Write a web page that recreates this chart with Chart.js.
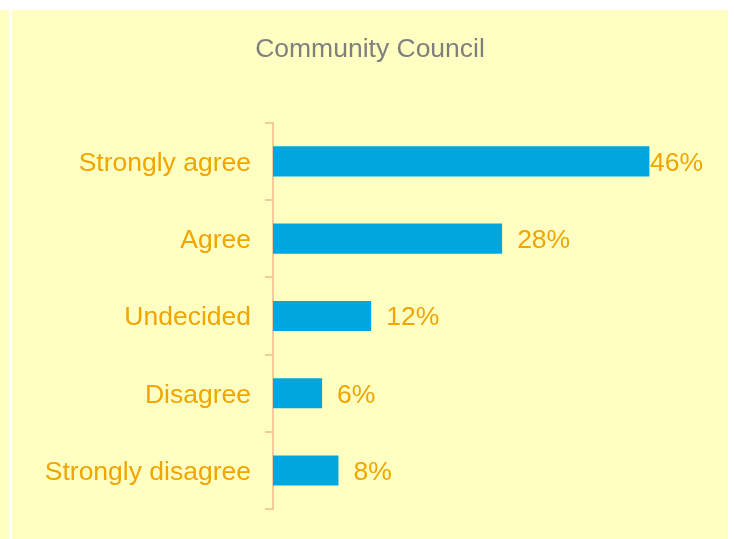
<!DOCTYPE html>
<html>
<head>
<meta charset="utf-8">
<title>Community Council</title>
<script src="https://cdn.jsdelivr.net/npm/chart.js@4/dist/chart.umd.min.js"></script>
<style>
  html, body { margin: 0; padding: 0; background: #fff; }
  #panel {
    position: absolute; left: 0; top: 10px; width: 728px; height: 529px;
    background: #FFFFC1;
  }
  #rule {
    position: absolute; left: 9px; top: 0; width: 3px; height: 529px;
    background: #fff;
  }
  #wrap { position: absolute; left: 12px; top: 0; width: 716px; height: 529px; }
</style>
</head>
<body>
<div id="panel">
  <div id="rule"></div>
  <div id="wrap"><canvas id="chBar"></canvas></div>
</div>
<script>
const labels = ["Strongly agree", "Agree", "Undecided", "Disagree", "Strongly disagree"];
const values = [46, 28, 12, 6, 8];

const FONT = "'Liberation Sans', Arial, sans-serif";
const ORANGE = "#F0A500";

// percent labels at the end of each bar, kept inside the panel
const valueLabels = {
  id: "valueLabels",
  afterDatasetsDraw(chart) {
    const ctx = chart.ctx;
    const area = chart.chartArea;
    const meta = chart.getDatasetMeta(0);
    ctx.save();
    ctx.font = "26.5px " + FONT;
    ctx.fillStyle = ORANGE;
    ctx.textBaseline = "middle";
    ctx.textAlign = "left";
    meta.data.forEach(function (bar, i) {
      const text = chart.data.datasets[0].data[i] + "%";
      const w = ctx.measureText(text).width;
      let x = bar.x + 15;
      if (x + w > area.right - 25) x = area.right - 25 - w;
      ctx.fillText(text, x, bar.y + 2);
    });
    ctx.restore();
  }
};

const data = {
  labels: labels,
  datasets: [
    {
      data: values,
      backgroundColor: "#00A6DD",
      borderWidth: 0,
      barPercentage: 0.39,
      categoryPercentage: 1,
    },
  ],
};

const config = {
  type: "bar",
  data: data,
  options: {
    indexAxis: "y",
    responsive: true,
    maintainAspectRatio: false,
    animation: false,
    layout: { padding: { left: 0, right: 0, bottom: 28, top: 0 } },
    plugins: {
      legend: { display: false },
      tooltip: { enabled: false },
      title: {
        display: true,
        text: "Community Council",
        color: "#7F7F7F",
        font: { family: FONT, size: 26.5, weight: "normal", lineHeight: 1.2 },
        padding: { top: 24, bottom: 57 },
      },
    },
    scales: {
      x: { display: false, min: 0, max: 55.6 },
      y: {
        afterFit: function (scale) { scale.width = 261; },
        border: { display: true, color: "#F6C99B", width: 2 },
        grid: { drawOnChartArea: false, color: "#F6C99B", lineWidth: 2, tickLength: 8, offset: true },
        ticks: { color: ORANGE, padding: 14, labelOffset: 2, font: { family: FONT, size: 26.5 } },
      },
    },
  },
  plugins: [valueLabels],
};

var myChart = new Chart(document.getElementById("chBar"), config);
</script>
</body>
</html>
